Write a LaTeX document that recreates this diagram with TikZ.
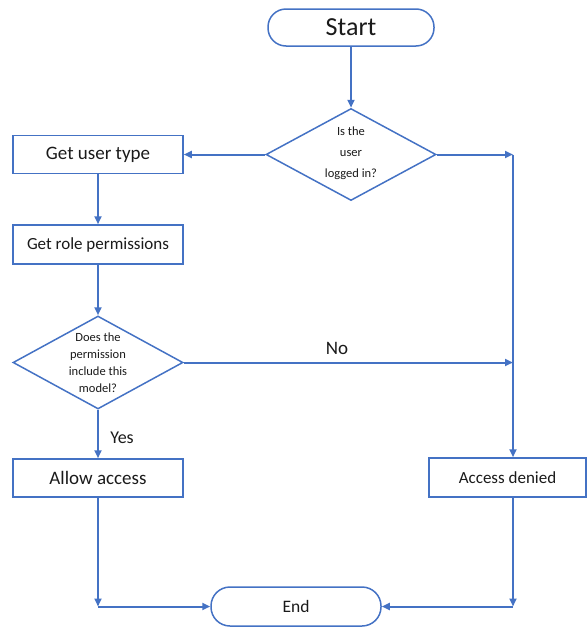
\documentclass[tikz,border=0pt]{standalone}
\usepackage{fontspec}
\setmainfont{Carlito}
\usetikzlibrary{shapes.geometric,arrows.meta}
\definecolor{flowblue}{HTML}{4472C4}
\definecolor{ink}{HTML}{1A1A1A}
\begin{document}
\begin{tikzpicture}[x=1pt,y=-1pt,
  line/.style={draw=flowblue, line width=2pt, -{Triangle[length=8pt,width=7pt]}},
  box/.style={draw=flowblue, line width=1.5pt, rectangle, minimum width=170pt,
    minimum height=38pt, inner sep=0pt, text=ink},
  pill/.style={box, rounded corners=18pt},
  decision/.style={draw=flowblue, line width=1.5pt, diamond, inner sep=0pt,
    minimum width=170pt, minimum height=92pt},
  dtext/.style={align=center, text=ink, inner sep=0pt},
  lbl/.style={text=ink, inner sep=0pt}]
\useasboundingbox (0,0) rectangle (587,627);

% shapes
\node[pill, minimum width=166pt, minimum height=37pt, font=\fontsize{26}{30}\selectfont] (start) at (351,27.5) {Start};
\node[decision] (login) at (351,154.5) {};
\node[dtext, font=\fontsize{12.5}{21}\selectfont] (logintxt) at (351,153) {Is the\\user\\logged in?};
\node[box, font=\fontsize{19}{22}\selectfont] (usertype) at (98,154.5) {Get user type};
\node[box, minimum height=39pt, font=\fontsize{17}{20}\selectfont] (roleperm) at (98,244.5) {Get role permissions};
\node[decision, minimum height=93pt] (perm) at (98,362.5) {};
\node[dtext, font=\fontsize{12.5}{17}\selectfont] (permtxt) at (98,363) {Does the\\permission\\include this\\model?};
\node[box, font=\fontsize{19}{22}\selectfont] (allow) at (98,478) {Allow access};
\node[box, minimum width=157pt, minimum height=39pt, font=\fontsize{17}{20}\selectfont] (denied) at (507.5,477.5) {Access denied};
\node[pill, minimum width=170pt, minimum height=39pt, rounded corners=19pt, font=\fontsize{17.5}{20}\selectfont] (end) at (296,606.5) {End};

% bend points of the connectors
\coordinate (rtop) at (513,154.5);
\coordinate (rmid) at (rtop |- perm.east);
\coordinate (lbot) at (allow.south |- end.west);
\coordinate (rbot) at (rtop |- end.east);

% connectors
\draw[line] (start) -- (login);
\draw[line] (login.west) -- (usertype.east);
\draw[line] (login.east) -- (rtop);
\draw[line] (rtop) -- (rtop |- denied.north);
\draw[line] (usertype) -- (roleperm);
\draw[line] (roleperm) -- (perm);
\draw[line] (perm.east) -- (rmid);
\draw[line] (perm.south) -- (allow.north);
\draw[line] (allow.south) -- (lbot);
\draw[line] (lbot) -- (end.west);
\draw[line] (rtop |- denied.south) -- (rbot);
\draw[line] (rbot) -- (end.east);

% branch labels
\node[lbl, font=\fontsize{19}{22}\selectfont] (nolbl) at (337,348) {No};
\node[lbl, font=\fontsize{18}{22}\selectfont] (yeslbl) at (122,438) {Yes};
\end{tikzpicture}
\end{document}
